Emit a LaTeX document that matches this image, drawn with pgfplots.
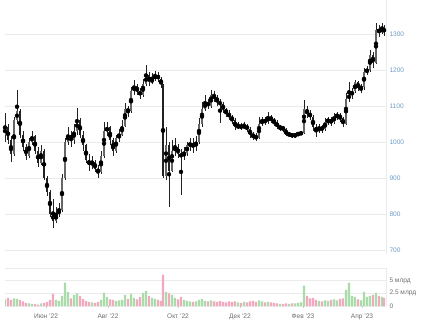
\documentclass[border=0pt]{standalone}
\usepackage{pgfplots}
\usepackage{pgfplotstable}
\usepackage{fontspec}
\setmainfont{Liberation Sans}
\pgfplotsset{compat=1.18}

\definecolor{gridc}{HTML}{EBEBEB}
\definecolor{pricelbl}{HTML}{6C9CC6}
\definecolor{vollbl}{HTML}{6E6E6E}
\definecolor{upv}{HTML}{A9DCA9}
\definecolor{dnv}{HTML}{F0A9BE}
\definecolor{candleup}{HTML}{666666}
\definecolor{candledn}{HTML}{222222}

\pgfplotstableread{
x o h l c v
5 1020 1080 1000 1040 1.3
8 1040 1050 995 1005 1.6
11 1005 1015 945 965 1.2
14 965 1070 960 1060 1.5
17 1060 1145 1050 1085 1.4
20 1085 1090 1010 1020 1.2
23 1020 1030 975 985 0.9
26 985 995 950 960 0.6
29 960 1010 955 1000 0.5
32 1000 1030 990 1015 0.4
35 1015 1020 965 975 0.4
38 975 985 930 940 0.3
41 940 990 935 975 0.5
44 975 980 895 900 0.6
47 900 905 850 860 0.8
50 860 865 790 800 1.2
53 800 840 762 780 2.4
56 780 820 775 800 1.2
59 800 830 790 810 1.0
62 810 910 805 900 2.0
65 900 1010 895 1000 4.6
68 1000 1040 990 1020 2.8
71 1020 1030 985 1005 1.5
74 1005 1050 995 1030 2.2
77 1030 1095 1020 1060 2.5
80 1060 1065 1010 1020 2.0
83 1020 1030 975 990 1.4
86 990 995 940 950 1.0
89 950 965 920 935 0.8
92 935 960 925 945 0.7
95 945 950 915 925 0.6
98 925 935 900 915 0.8
101 915 975 910 960 1.2
104 960 1055 955 1030 2.6
107 1030 1055 1015 1040 1.8
110 1040 1045 990 1005 1.3
113 1005 1010 960 975 1.2
116 975 1020 970 1010 1.0
119 1010 1035 1000 1020 1.1
122 1020 1060 1015 1045 1.2
125 1045 1108 1040 1090 2.2
128 1090 1100 1070 1085 1.4
131 1085 1152 1080 1140 2.4
134 1140 1172 1130 1155 1.6
137 1155 1160 1130 1140 1.3
140 1140 1150 1120 1130 1.8
143 1130 1175 1125 1160 2.6
146 1160 1214 1155 1185 3.0
149 1185 1195 1155 1165 2.0
152 1165 1190 1160 1175 1.6
155 1175 1198 1168 1185 1.4
158 1185 1195 1165 1175 1.2
161 1175 1180 1150 1160 1.0
163 1160 1162 900 905 6.2
166 905 1040 895 990 2.8
169 990 1000 820 920 2.5
172 920 1005 915 975 2.2
175 975 1010 960 985 1.6
178 985 995 955 965 1.3
181 965 980 853 960 1.8
184 960 985 950 970 1.2
187 970 1000 960 990 1.0
190 990 1010 975 995 0.9
193 995 1010 970 985 0.8
196 985 1015 975 1000 0.9
199 1000 1065 995 1050 1.2
202 1050 1110 1040 1090 1.4
205 1090 1130 1085 1110 1.0
208 1110 1120 1090 1100 0.9
211 1100 1145 1095 1130 1.1
214 1130 1140 1110 1125 0.9
217 1125 1130 1100 1110 0.8
220 1110 1120 1053 1105 1.0
223 1105 1110 1080 1090 0.8
226 1090 1095 1070 1080 0.7
229 1080 1088 1060 1070 0.9
232 1070 1075 1050 1060 0.8
235 1060 1065 1033 1040 0.9
238 1040 1055 1035 1045 0.7
241 1045 1052 1032 1040 0.6
244 1040 1055 1035 1045 0.8
247 1045 1050 1028 1035 0.7
250 1035 1040 1012 1020 0.9
253 1020 1028 1005 1015 1.0
256 1015 1025 1002 1010 0.8
259 1010 1068 1008 1050 1.1
262 1050 1070 1045 1060 0.9
265 1060 1068 1048 1055 0.7
268 1055 1082 1050 1070 0.8
271 1070 1075 1052 1060 0.7
274 1060 1065 1045 1055 0.6
277 1055 1060 1035 1040 0.5
280 1040 1048 1030 1041 0.4
283 1041 1045 1028 1035 0.4
286 1035 1038 1015 1020 0.5
289 1020 1028 1014 1021 0.4
292 1021 1025 1012 1015 0.5
295 1015 1025 1012 1020 0.5
298 1020 1028 1016 1022 0.6
301 1022 1030 1018 1025 0.7
304 1025 1117 1022 1090 4.0
307 1090 1100 1065 1080 2.0
310 1080 1088 1060 1070 1.5
313 1070 1075 1030 1040 1.6
316 1040 1050 1014 1030 1.2
319 1030 1050 1025 1040 1.0
322 1040 1048 1025 1035 0.9
325 1035 1065 1030 1055 1.1
328 1055 1070 1048 1060 1.0
331 1060 1068 1045 1055 1.2
334 1055 1080 1050 1070 1.3
337 1070 1082 1062 1075 1.1
340 1075 1080 1055 1065 1.4
343 1065 1070 1040 1050 1.5
346 1050 1135 1048 1120 3.2
349 1120 1165 1110 1130 4.6
352 1130 1150 1120 1140 2.0
355 1140 1172 1135 1165 1.8
358 1165 1170 1140 1150 1.3
361 1150 1160 1135 1151 1.1
364 1151 1205 1145 1195 2.8
367 1195 1210 1185 1200 1.8
370 1200 1255 1195 1240 2.0
373 1240 1250 1205 1220 2.2
376 1220 1330 1215 1310 2.6
379 1310 1325 1292 1305 2.0
382 1305 1330 1300 1315 1.8
384 1315 1325 1295 1305 1.6
}\data

\begin{document}
\begin{tikzpicture}
\useasboundingbox (0,0) rectangle (422bp,-320bp);
% price panel
\begin{axis}[
  at={(5bp,0bp)}, anchor=north west,
  x=1bp, y=0.36bp,
  xmin=5, xmax=386, ymin=689, ymax=1394,
  axis x line=none,
  axis y line*=right,
  y axis line style={draw=gridc, line width=0.6bp},
  xtick=\empty,
  ytick={700,800,900,1000,1100,1200,1300},
  ymajorgrids,
  grid style={draw=gridc, line width=0.6bp},
  major tick length=0pt,
  yticklabel pos=right,
  yticklabel style={font=\fontsize{6.6}{7}\selectfont, text=pricelbl, xshift=0bp},
  /pgf/number format/assume math mode=true,
  /pgf/number format/1000 sep={},
  unbounded coords=discard,
]
% wicks
\addplot[only marks, mark=none,
  error bars/.cd, y dir=both, y explicit, error mark=none,
  error bar style={draw=candledn, line width=0.5bp}]
  table[x=x, y expr={0.5*(\thisrow{h}+\thisrow{l})}, y error expr={0.5*(\thisrow{h}-\thisrow{l})}] {\data};
% up bodies
\addplot[only marks, mark=none,
  error bars/.cd, y dir=both, y explicit, error mark=none,
  error bar style={draw=candleup, line width=1.5bp}]
  table[x=x, y expr={\thisrow{c}>=\thisrow{o} ? 0.5*(\thisrow{o}+\thisrow{c}) : nan}, y error expr={max(0.5*abs(\thisrow{c}-\thisrow{o}),1.5)}] {\data};
% down bodies
\addplot[only marks, mark=none,
  error bars/.cd, y dir=both, y explicit, error mark=none,
  error bar style={draw=candledn, line width=1.5bp}]
  table[x=x, y expr={\thisrow{c}<\thisrow{o} ? 0.5*(\thisrow{o}+\thisrow{c}) : nan}, y error expr={max(0.5*abs(\thisrow{c}-\thisrow{o}),1.5)}] {\data};
\end{axis}
% volume panel
\begin{axis}[
  at={(5bp,-268bp)}, anchor=north west,
  x=1bp, y=5.07bp,
  xmin=5, xmax=386, ymin=0, ymax=7.5,
  axis x line*=bottom,
  axis y line*=right,
  x axis line style={draw=none},
  y axis line style={draw=gridc, line width=0.6bp},
  xtick={46,108,178,240,303,362},
  xticklabels={Июн '22, Авг '22, Окт '22, Дек '22, Фев '23, Апр '23},
  xtick align=outside,
  x tick style={draw=gridc!70!gray, line width=0.5bp},
  xtick style={/pgfplots/major tick length=2bp},
  xticklabel style={font=\fontsize{6.6}{7}\selectfont, text=vollbl},
  ytick={0,2.5,5,7.5},
  yticklabels={0, 2.5 млрд, 5 млрд, {}},
  y tick style={draw=none},
  ymajorgrids,
  grid style={draw=gridc, line width=0.6bp},
  yticklabel pos=right,
  yticklabel style={font=\fontsize{6.6}{7}\selectfont, text=vollbl},
  unbounded coords=discard,
]
\addplot[ybar, bar width=2.2, bar shift=0pt, fill=upv, draw=none]
  table[x=x, y expr={\thisrow{c}>=\thisrow{o} ? \thisrow{v} : nan}] {\data};
\addplot[ybar, bar width=2.2, bar shift=0pt, fill=dnv, draw=none]
  table[x=x, y expr={\thisrow{c}<\thisrow{o} ? \thisrow{v} : nan}] {\data};
\end{axis}
\end{tikzpicture}
\end{document}
